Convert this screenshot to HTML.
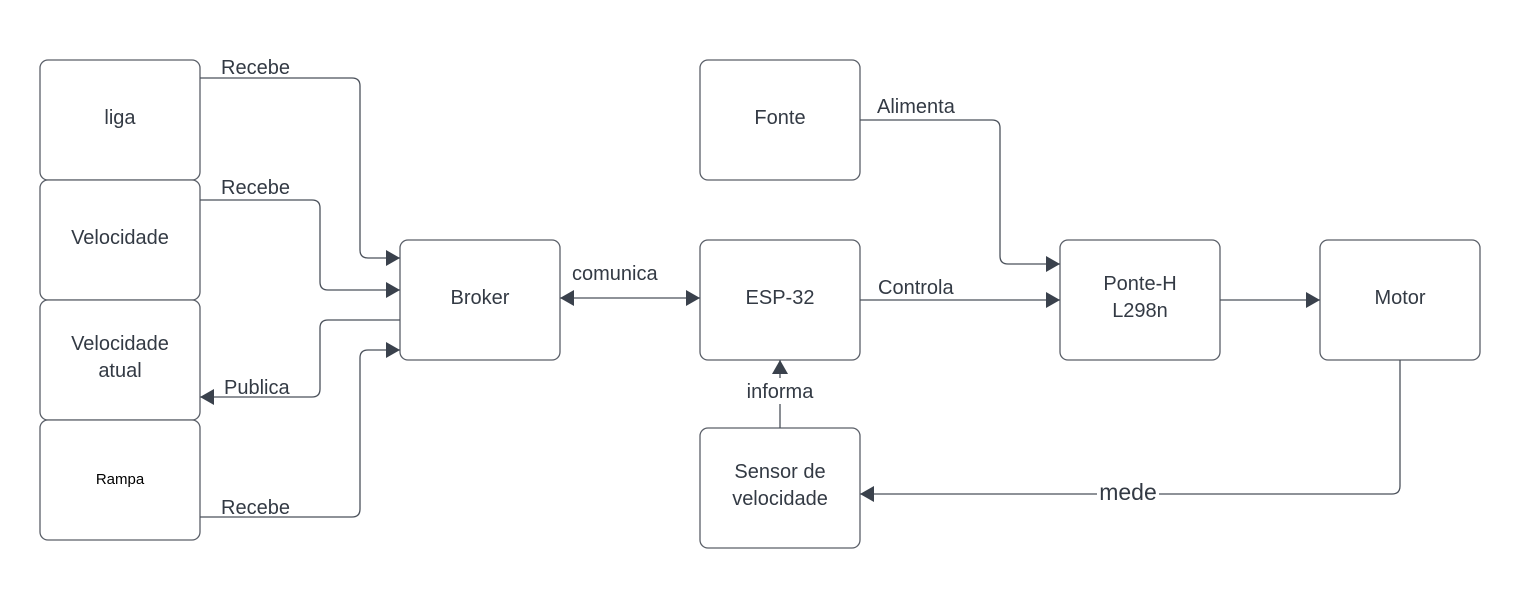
<!DOCTYPE html>
<html><head><meta charset="utf-8"><style>
body{margin:0;background:#fff;}
svg text{font-family:"Liberation Sans",sans-serif;fill:#333a44;}
</style></head><body>
<svg width="1520" height="589" viewBox="0 0 1520 589" xmlns="http://www.w3.org/2000/svg">
<defs><marker id="a" markerWidth="14" markerHeight="16" refX="14" refY="8" orient="auto" markerUnits="userSpaceOnUse"><path d="M0,0 L14,8 L0,16 Z" fill="#3a414c"/></marker></defs>
<g fill="#fff" stroke="#5a5f68" stroke-width="1.3">
<rect x="40" y="60" width="160" height="120" rx="8"/>
<rect x="40" y="180" width="160" height="120" rx="8"/>
<rect x="40" y="300" width="160" height="120" rx="8"/>
<rect x="40" y="420" width="160" height="120" rx="8"/>
<rect x="400" y="240" width="160" height="120" rx="8"/>
<rect x="700" y="60" width="160" height="120" rx="8"/>
<rect x="700" y="240" width="160" height="120" rx="8"/>
<rect x="700" y="428" width="160" height="120" rx="8"/>
<rect x="1060" y="240" width="160" height="120" rx="8"/>
<rect x="1320" y="240" width="160" height="120" rx="8"/>
</g>
<g fill="none" stroke="#4a505a" stroke-width="1.3">
<path d="M200,78 H352 Q360,78 360,86 V250 Q360,258 368,258 H400" marker-end="url(#a)"/>
<path d="M200,200 H312 Q320,200 320,208 V282 Q320,290 328,290 H400" marker-end="url(#a)"/>
<path d="M400,320 H328 Q320,320 320,328 V389 Q320,397 312,397 H200" marker-end="url(#a)"/>
<path d="M200,517 H352 Q360,517 360,509 V358 Q360,350 368,350 H400" marker-end="url(#a)"/>
<path d="M630,298 H700" marker-end="url(#a)"/>
<path d="M630,298 H560" marker-end="url(#a)"/>
<path d="M860,120 H992 Q1000,120 1000,128 V256 Q1000,264 1008,264 H1060" marker-end="url(#a)"/>
<path d="M860,300 H1060" marker-end="url(#a)"/>
<path d="M1220,300 H1320" marker-end="url(#a)"/>
<path d="M1400,360 V486 Q1400,494 1392,494 H860" marker-end="url(#a)"/>
<path d="M780,428 V360" marker-end="url(#a)"/>
</g>
<rect x="740" y="378" width="80" height="26" fill="#fff"/>
<rect x="1097" y="482" width="62" height="24" fill="#fff"/>
<g font-size="20">
<text x="120" y="124" text-anchor="middle">liga</text>
<text x="120" y="244" text-anchor="middle">Velocidade</text>
<text x="120" y="350" text-anchor="middle">Velocidade</text>
<text x="120" y="377" text-anchor="middle">atual</text>
<text x="120" y="484" text-anchor="middle" font-size="15" style="fill:#000">Rampa</text>
<text x="480" y="304" text-anchor="middle">Broker</text>
<text x="780" y="124" text-anchor="middle">Fonte</text>
<text x="780" y="304" text-anchor="middle">ESP-32</text>
<text x="780" y="478" text-anchor="middle">Sensor de</text>
<text x="780" y="505" text-anchor="middle">velocidade</text>
<text x="1140" y="290" text-anchor="middle">Ponte-H</text>
<text x="1140" y="317" text-anchor="middle">L298n</text>
<text x="1400" y="304" text-anchor="middle">Motor</text>
<text x="221" y="74">Recebe</text>
<text x="221" y="194">Recebe</text>
<text x="224" y="394">Publica</text>
<text x="221" y="514">Recebe</text>
<text x="572" y="280">comunica</text>
<text x="877" y="113">Alimenta</text>
<text x="878" y="294">Controla</text>
<text x="780" y="398" text-anchor="middle">informa</text>
<text x="1128" y="500" text-anchor="middle" font-size="23">mede</text>
</g>
</svg>
</body></html>
